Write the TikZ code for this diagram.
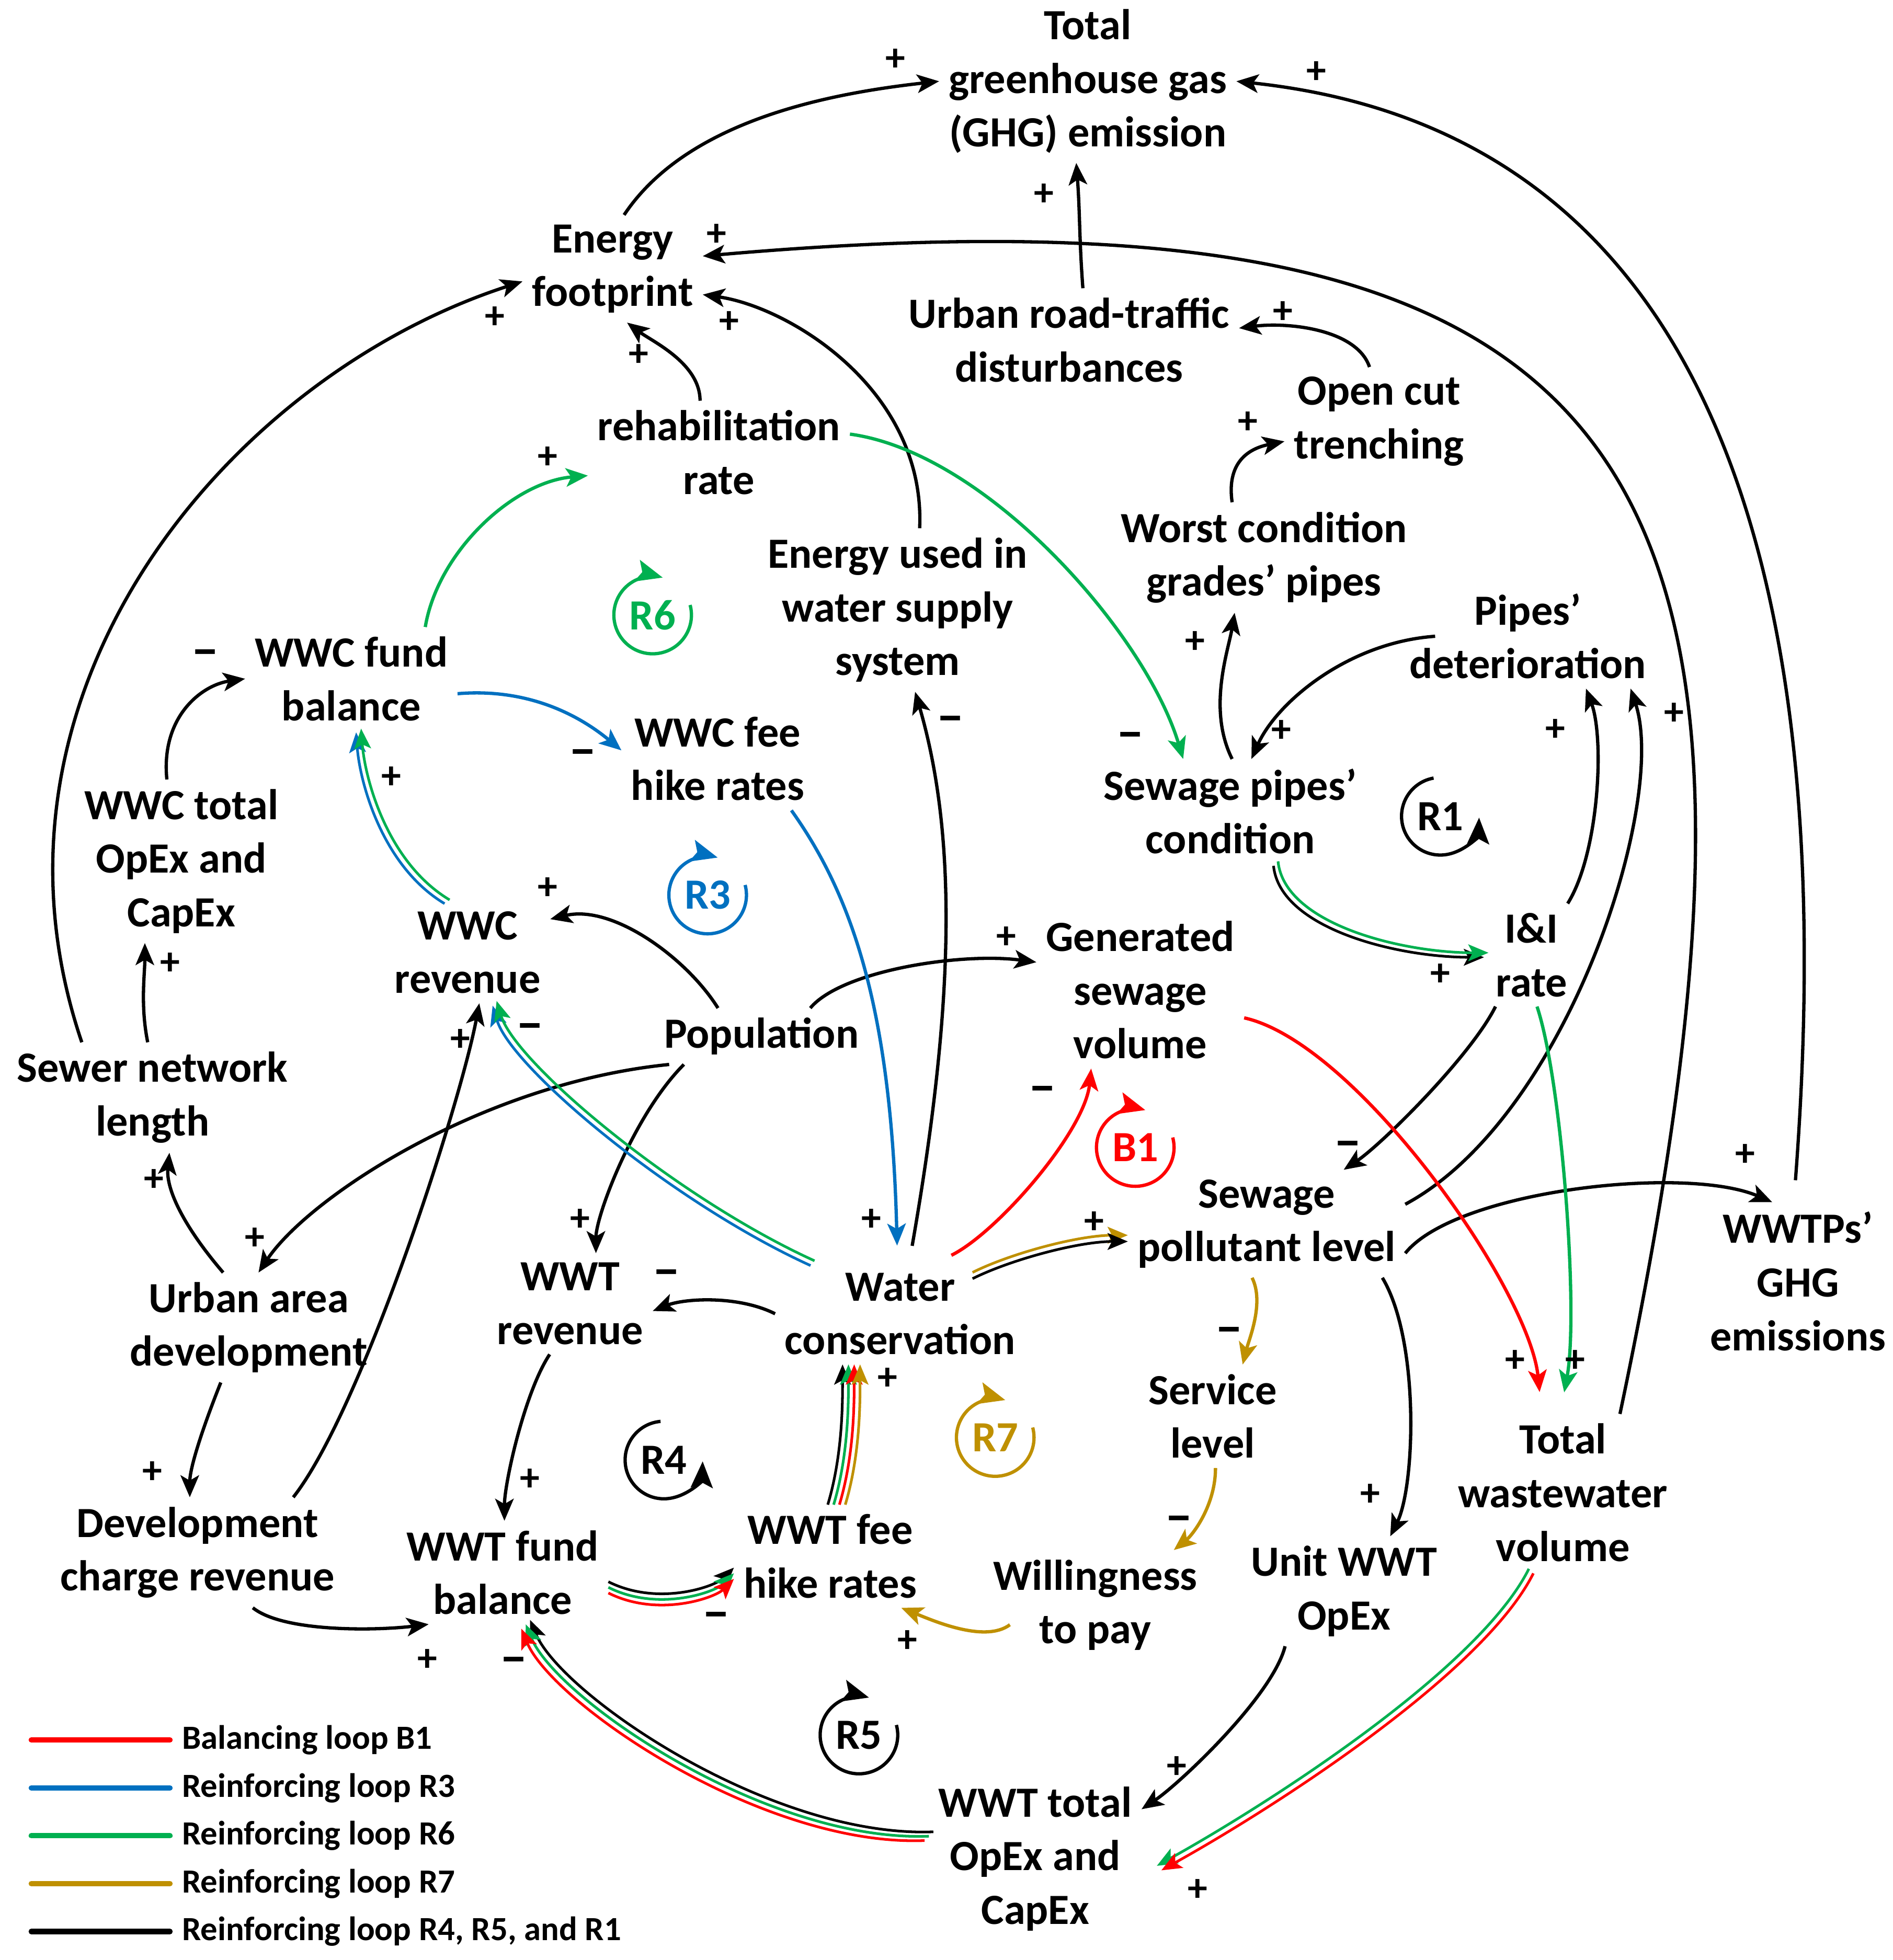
\documentclass[tikz,border=0pt]{standalone}
\usepackage{fontspec}
\setmainfont{Carlito}
\usetikzlibrary{arrows.meta}

\definecolor{loopred}{RGB}{255,0,0}
\definecolor{loopblue}{RGB}{0,112,192}
\definecolor{loopgreen}{RGB}{0,176,80}
\definecolor{loopgold}{RGB}{191,144,0}

\newcommand{\mns}{{\fontsize{11.5}{11.5}\selectfont −}}

\tikzset{
  var/.style={align=center, inner sep=2pt, font=\fontsize{9.8}{12.2}\selectfont\bfseries},
  sign/.style={inner sep=0pt, font=\fontsize{9}{9}\selectfont\bfseries},
  link/.style={line width=0.75pt, -{Stealth[length=5pt,width=4.2pt,inset=1.2pt]}},
  band/.style={line width=0.6pt, -{Stealth[length=4.6pt,width=3.8pt,inset=1pt]}},
  off/.style={transform canvas={shift={#1}}},
  looplbl/.style={inner sep=1pt, font=\fontsize{9.8}{12}\selectfont\bfseries},
  looparc/.style={line width=0.75pt, -{Stealth[length=6pt,width=5pt,inset=1.2pt]}},
  legline/.style={line width=1.2pt, line cap=round},
  legtxt/.style={anchor=west, inner sep=0pt, font=\fontsize{7.7}{9}\selectfont\bfseries}
}

\begin{document}
\begin{tikzpicture}[x=0.01cm, y=-0.01cm]
\fill[white] (0,0) rectangle (1514,1568);
\useasboundingbox (0,0) rectangle (1514,1568);

\node[var] (ghg) at (870,65) {Total\\greenhouse gas\\(GHG) emission};
\node[var] (energy) at (490,215) {Energy\\footprint};
\node[var] (traffic) at (855,272) {Urban road-traffic\\disturbances};
\node[var] (opencut) at (1103,337) {Open cut\\trenching};
\node[var] (rehab) at (575,362) {rehabilitation\\rate};
\node[var] (energyuse) at (718,488) {Energy used in\\water supply\\system};
\node[var] (worst) at (1011,446) {Worst condition\\grades' pipes};
\node[var] (det) at (1222,509) {Pipes'\\deterioration};
\node[var] (wwcfund) at (281,543) {WWC fund\\balance};
\node[var] (wwcfee) at (574,607) {WWC fee\\hike rates};
\node[var] (sewpipe) at (984,649) {Sewage pipes'\\condition};
\node[var] (wwctotal) at (145,689) {WWC total\\OpEx and\\CapEx};
\node[var] (wwcrev) at (374,762) {WWC\\revenue};
\node[var] (gensew) at (912,792) {Generated\\sewage\\volume};
\node[var] (ii) at (1225,764) {I\&I\\rate};
\node[var] (pop) at (609,829) {Population};
\node[var] (sewer) at (122,878) {Sewer network\\length};
\node[var] (pollut) at (1013,979) {Sewage\\pollutant level};
\node[var] (wwtpghg) at (1438,1025) {WWTPs'\\GHG\\emissions};
\node[var] (urbandev) at (199,1062) {Urban area\\development};
\node[var] (wwtrev) at (456,1043) {WWT\\revenue};
\node[var] (watercons) at (720,1051) {Water\\conservation};
\node[var] (service) at (970,1133) {Service\\level};
\node[var] (totalww) at (1250,1194) {Total\\wastewater\\volume};
\node[var] (devcharge) at (158,1242) {Development\\charge revenue};
\node[var] (wwtfund) at (402,1258) {WWT fund\\balance};
\node[var] (wwtfee) at (664,1245) {WWT fee\\hike rates};
\node[var] (willing) at (876,1284) {Willingness\\to pay};
\node[var] (unitwwt) at (1075,1273) {Unit WWT\\OpEx};
\node[var] (wwttotal) at (828,1487) {WWT total\\OpEx and\\CapEx};

% black links
\draw[link] (energy.78) .. controls +(50,-75) and +(-90,10) .. (ghg.west);
\draw[link, shorten <=5pt] (wwtpghg.93) .. controls +(45,-590) and +(330,35) .. (ghg.east);
\draw[link] (traffic.75) .. controls +(-3,-40) and +(3,40) .. (ghg.262);
\draw[link] (totalww.54) .. controls +(160,-760) and +(763,-67) .. (energy.8);
\draw[link] (sewer.142) .. controls +(-95,-280) and +(-235,76) .. (energy.188);
\draw[link] (rehab.110) .. controls +(0,-30) and +(20,15) .. (energy.-75);
\draw[link] (energyuse.75) .. controls +(5,-110) and +(70,10) .. (energy.-16);
\draw[link] (opencut.100) .. controls +(-10,-30) and +(40,-5) .. (traffic.4);
\draw[link] (worst.120) .. controls +(-5,-35) and +(-25,5) .. (opencut.192);
\draw[link] (sewpipe.88) .. controls +(-20,-40) and +(-5,30) .. (worst.-118);
\draw[link] ([xshift=8pt]det.west) .. controls +(-70,5) and +(20,-45) .. (sewpipe.68);
\draw[link] (wwctotal.100) .. controls +(-5,-50) and +(-35,5) .. (wwcfund.west);
\draw[link, shorten <=4pt] (watercons.80) .. controls +(35,-200) and +(35,120) .. (energyuse.-78);
\draw[link] (pop.147) .. controls +(-25,-40) and +(50,-12) .. (wwcrev.22);
\draw[link] (pop.30) .. controls +(25,-30) and +(-60,-8) .. (gensew.165);
\draw[link] (devcharge.30) .. controls +(55,-70) and +(-15,80) .. (wwcrev.-77);
\draw[link] (sewer.95) .. controls +(-6,-30) and +(0,25) .. (wwctotal.-114);
\draw[link] (urbandev.115) .. controls +(-30,-35) and +(-3,30) .. (sewer.-73);
\draw[link] (pop.197) .. controls +(-150,15) and +(40,-60) .. (urbandev.80);
\draw[link] (pop.-160) .. controls +(-40,40) and +(0,-30) .. (wwtrev.63);
\draw[link] (ii.55) .. controls +(25,-40) and +(15,40) .. (det.-42);
\draw[link] (pollut.8) .. controls +(130,-70) and +(30,90) .. (det.-27);
\draw[link] (ii.-125) .. controls +(-20,40) and +(30,-20) .. (pollut.35);
\draw[link] (pollut.-12) .. controls +(40,-50) and +(-70,-30) .. (wwtpghg.108);
\draw[link] (pollut.-25) .. controls +(30,50) and +(20,-40) .. (unitwwt.50);
\draw[link] (unitwwt.-137) .. controls +(-10,40) and +(30,-20) .. (wwttotal.25);
\draw[link] (devcharge.-45) .. controls +(25,20) and +(-40,5) .. (wwtfund.-145);
\draw[link] (wwtrev.-112) .. controls +(-20,30) and +(0,-30) .. (wwtfund.88);
\draw[link] (watercons.west) .. controls +(-30,-15) and +(25,-10) .. (wwtrev.-5);
\draw[link] (urbandev.-117) .. controls +(-12,30) and +(0,-25) .. (devcharge.98);

% single coloured links
\draw[link, loopgreen] (rehab.8) .. controls +(110,15) and +(-30,-100) .. (sewpipe.132);
\draw[link, loopgreen] (wwcfund.35) .. controls +(10,-60) and +(-60,5) .. (rehab.190);
\draw[link, loopblue] (wwcfund.-8) .. controls +(60,-5) and +(-30,-25) .. (wwcfee.175);
\draw[link, loopblue, shorten >=4pt] (wwcfee.-35) .. controls +(50,70) and +(-5,-200) .. (watercons.93);
\draw[link, loopred, shorten <=4pt] (watercons.55) .. controls +(50,-25) and +(-5,50) .. (gensew.-122);
\draw[link, loopred, shorten >=5pt] (gensew.-15) .. controls +(90,20) and +(-10,-100) .. (totalww.105);
\draw[link, loopgreen, shorten >=5pt] (ii.-84) .. controls +(20,60) and +(15,-80) .. (totalww.92);
\draw[link, loopgold] (pollut.-105) .. controls +(10,20) and +(5,-20) .. (service.60);
\draw[link, loopgold] (service.-87) .. controls +(0,30) and +(15,-12) .. (willing.35);
\draw[link, loopgold] ([xshift=6pt]willing.190) .. controls +(-20,15) and +(25,10) .. (wwtfee.-36);

% bundles
\draw[band, loopblue, off={(-2,1.5)}] (wwcrev.112) .. controls +(-50,-30) and +(3,40) .. (wwcfund.-82);
\draw[band, loopgreen, off={(2,-1.5)}] (wwcrev.112) .. controls +(-50,-30) and +(3,40) .. (wwcfund.-82);
\draw[band, loopblue, off={(-1.6,1.9)}] (watercons.150) .. controls +(-110,-50) and +(15,50) .. (wwcrev.-62);
\draw[band, loopgreen, off={(1.6,-1.9)}] (watercons.150) .. controls +(-110,-50) and +(15,50) .. (wwcrev.-62);
\draw[band, loopgold, off={(0,-2.5)}] ([xshift=-12pt]watercons.17) .. controls +(30,-15) and +(-40,0) .. (pollut.186);
\draw[band, black, off={(0,2.5)}] ([xshift=-12pt]watercons.17) .. controls +(30,-15) and +(-40,0) .. (pollut.186);
\draw[band, black, off={(-1.8,1.8)}] (sewpipe.-49) .. controls +(5,50) and +(-70,0) .. (ii.west);
\draw[band, loopgreen, off={(1.8,-1.8)}] (sewpipe.-49) .. controls +(5,50) and +(-70,0) .. (ii.west);
\draw[band, loopgreen, off={(-1.8,-1.8)}] (totalww.-112) .. controls +(-40,80) and +(90,-50) .. ([xshift=4pt]wwttotal.-5);
\draw[band, loopred, off={(1.8,1.8)}] (totalww.-112) .. controls +(-40,80) and +(90,-50) .. ([xshift=4pt]wwttotal.-5);
\draw[band, black, off={(3.5,-3.5)}] (wwttotal.168) .. controls +(-130,5) and +(25,60) .. (wwtfund.-66);
\draw[band, loopgreen] (wwttotal.168) .. controls +(-130,5) and +(25,60) .. (wwtfund.-66);
\draw[band, loopred, off={(-3.5,3.5)}] (wwttotal.168) .. controls +(-130,5) and +(25,60) .. (wwtfund.-66);
\draw[band, black, off={(0,-4.5)}] (wwtfund.-8) .. controls +(40,20) and +(-15,15) .. (wwtfee.190);
\draw[band, loopgreen] (wwtfund.-8) .. controls +(40,20) and +(-15,15) .. (wwtfee.190);
\draw[band, loopred, off={(0,4.5)}] (wwtfund.-8) .. controls +(40,20) and +(-15,15) .. (wwtfee.190);
\draw[band, black, off={(-7,0)}] (wwtfee.83) .. controls +(12,-40) and +(0,30) .. (watercons.-134);
\draw[band, loopgreen, off={(-2.3,0)}] (wwtfee.83) .. controls +(12,-40) and +(0,30) .. (watercons.-134);
\draw[band, loopred, off={(2.3,0)}] (wwtfee.83) .. controls +(12,-40) and +(0,30) .. (watercons.-134);
\draw[band, loopgold, off={(7,0)}] (wwtfee.83) .. controls +(12,-40) and +(0,30) .. (watercons.-134);

% loop markers
\node[looplbl, loopgreen] (r6) at (522,492) {R6};
\draw[looparc, loopgreen] (r6.center) ++(15:3.1mm) arc[start angle=15, end angle=-285, radius=3.1mm];
\node[looplbl, loopblue] (r3) at (566,716) {R3};
\draw[looparc, loopblue] (r3.center) ++(15:3.1mm) arc[start angle=15, end angle=-285, radius=3.1mm];
\node[looplbl, loopred] (b1) at (908,918) {B1};
\draw[looparc, loopred] (b1.center) ++(15:3.1mm) arc[start angle=15, end angle=-285, radius=3.1mm];
\node[looplbl, loopgold] (r7) at (796,1150) {R7};
\draw[looparc, loopgold] (r7.center) ++(15:3.1mm) arc[start angle=15, end angle=-285, radius=3.1mm];
\node[looplbl] (r5) at (687,1388) {R5};
\draw[looparc] (r5.center) ++(15:3.1mm) arc[start angle=15, end angle=-285, radius=3.1mm];
\node[looplbl] (r1) at (1152,653) {R1};
\draw[looparc] (r1.center) ++(100:3.1mm) arc[start angle=100, end angle=358, radius=3.1mm];
\node[looplbl] (r4) at (531,1168) {R4};
\draw[looparc] (r4.center) ++(95:3.1mm) arc[start angle=95, end angle=358, radius=3.1mm];

% polarities
\foreach \sx/\sy/\sg [count=\i] in {716/48/+, 1053/58/+, 835/156/+, 573/188/+, 396/254/+,
  511/284/+, 583/258/+, 1026/250/+, 998/338/+, 956/514/+, 1025/585/+, 904/593/\mns,
  438/366/+, 164/527/\mns, 466/607/\mns, 313/622/+, 697/976/+, 760/580/\mns, 438/711/+,
  805/750/+, 424/826/\mns, 368/832/+, 136/771/+, 123/944/+, 204/991/+, 464/976/+,
  834/876/\mns, 875/978/+, 1212/1089/+, 1260/1089/+, 1152/780/+, 1244/584/+, 1339/571/+,
  1078/920/\mns, 1396/924/+, 983/1069/\mns, 943/1220/\mns, 726/1313/+, 1096/1196/+, 941/1414/+,
  958/1512/+, 411/1333/\mns, 342/1328/+, 424/1184/+, 573/1297/\mns, 710/1103/+, 533/1023/\mns,
  122/1178/+}
  \node[sign] (sg\i) at (\sx,\sy) {\sg};

% legend
\foreach \c/\t [count=\i] in {loopred/Balancing loop B1, loopblue/Reinforcing loop R3,
  loopgreen/Reinforcing loop R6, loopgold/Reinforcing loop R7,
  black/{Reinforcing loop R4, R5, and R1}} {
  \node[legtxt] (leg\i) at (145,{1392+(\i-1)*38.3}) {\t};
  \draw[legline, \c] (leg\i.west) ++(-9,0) -- ++(-111,0);
}
\end{tikzpicture}
\end{document}
